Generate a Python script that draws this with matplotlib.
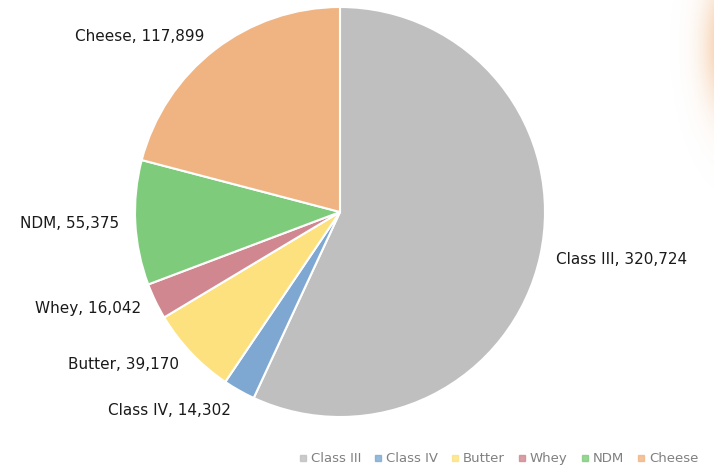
import numpy as np
import matplotlib as mpl
mpl.use('Agg')
import matplotlib.pyplot as plt

products = ['Class III', 'Class IV', 'Butter', 'Whey', 'NDM', 'Cheese']
volumes = [320724, 14302, 39170, 16042, 55375, 117899]
colors = ['#bfbfbf', '#7ea8d2', '#fde17f', '#d0878f', '#7fcb7c', '#f0b483']

fig = plt.figure(figsize=(7.14, 4.68), dpi=100)

# soft orange glow at the right edge of the slide
bg = fig.add_axes([0, 0, 1, 1], zorder=0)
bg.set_axis_off()
h, w = 468, 714
yy, xx = np.mgrid[0:h, 0:w]
glow = np.exp(-((xx - 735) / 28.0) ** 2 - ((yy - 45) / 65.0) ** 2)
img = np.zeros((h, w, 4))
img[..., 0] = 0.95
img[..., 1] = 0.72
img[..., 2] = 0.52
img[..., 3] = np.clip(glow * 0.95, 0, 1)
bg.imshow(img, extent=[0, w, h, 0], aspect='auto')
bg.set_xlim(0, w)
bg.set_ylim(h, 0)

cx, cy, r = 340, 212, 205
ax = fig.add_axes([(cx - r) / w, (h - cy - r) / h, 2 * r / w, 2 * r / h], zorder=1)

labels = [f'{p}, {v:,}' for p, v in zip(products, volumes)]
wedges, texts = ax.pie(volumes, labels=labels, colors=colors, startangle=90,
                       counterclock=False, labeldistance=1.08,
                       wedgeprops=dict(edgecolor='white', linewidth=1.5),
                       textprops=dict(fontsize=11, color='#1a1a1a',
                                      family='DejaVu Sans'))
# small downward nudge so the Class IV label clears the pie
x, y = texts[1].get_position()
texts[1].set_position((x, y - 0.03))
ax.set_xlim(-1, 1)
ax.set_ylim(-1, 1)
ax.set_aspect('equal')

handles = [plt.Line2D([], [], marker='s', linestyle='none', markersize=4,
                      markerfacecolor=c, markeredgecolor=c, alpha=0.8) for c in colors]
fig.legend(handles, products, loc='lower right', ncol=6, frameon=False,
           bbox_to_anchor=(0.995, -0.02), fontsize=9.5, labelcolor='#808080',
           handletextpad=0.15, columnspacing=0.85, handlelength=0.9)

plt.savefig('out.png', dpi=100)
